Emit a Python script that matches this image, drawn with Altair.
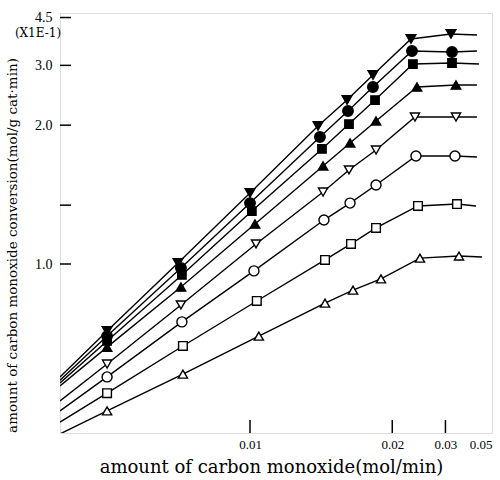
import altair as alt
import pandas as pd

# Eight catalyst runs: marker style for each
SHAPES = ["triangle-down", "circle", "square", "triangle-up",
          "triangle-down", "circle", "square", "triangle-up"]
FILLED = [True, True, True, True, False, False, False, False]
SIZES = [95, 110, 70, 90, 85, 100, 75, 85]

# CO feed rate (mol/min) of each measured point, one list per run
X_MEAS = [
    [0.006408, 0.007835, 0.01000, 0.01329, 0.01535, 0.01774, 0.02273, 0.03157],
    [0.006408, 0.007907, 0.01000, 0.01341, 0.01543, 0.01774, 0.02290, 0.03187],
    [0.006408, 0.007931, 0.01007, 0.01354, 0.01551, 0.01796, 0.02306, 0.03187],
    [0.006408, 0.007907, 0.01019, 0.01361, 0.01560, 0.01807, 0.02376, 0.03311],
    [0.006408, 0.007907, 0.01023, 0.01361, 0.01551, 0.01807, 0.02341, 0.03311],
    [0.006408, 0.007931, 0.01015, 0.01367, 0.01560, 0.01807, 0.02358, 0.03279],
    [0.006408, 0.007956, 0.01026, 0.01374, 0.01568, 0.01807, 0.02394, 0.03344],
    [0.006408, 0.007956, 0.01034, 0.01374, 0.01585, 0.01862, 0.02430, 0.03411],
]
# CO conversion (x 1E-1 mol/g cat.min) at those points
Y_MEAS = [
    [0.772, 1.004, 1.379, 1.990, 2.346, 2.792, 3.709, 3.873],
    [0.758, 0.984, 1.313, 1.864, 2.184, 2.563, 3.357, 3.330],
    [0.745, 0.956, 1.264, 1.740, 2.014, 2.346, 3.031, 3.055],
    [0.729, 0.911, 1.190, 1.585, 1.800, 2.052, 2.563, 2.599],
    [0.688, 0.850, 1.089, 1.386, 1.552, 1.730, 2.103, 2.103],
    [0.659, 0.798, 0.972, 1.212, 1.313, 1.436, 1.673, 1.673],
    [0.625, 0.732, 0.863, 1.017, 1.089, 1.169, 1.295, 1.307],
    [0.591, 0.665, 0.758, 0.856, 0.900, 0.941, 1.025, 1.034],
]

# Fitted lines run from the left edge of the plot to just past the last point
X_START = 0.005697
Y_START = [0.659, 0.652, 0.646, 0.640, 0.610, 0.591, 0.571, 0.551]
X_END = [0.04141, 0.04141, 0.04240, 0.04141, 0.04141, 0.04141, 0.04094, 0.04396]
Y_END = [3.839, 3.357, 3.031, 2.599, 2.103, 1.664, 1.295, 1.030]

# Axis ranges and tick marks
X_DOMAIN = [0.005697, 0.05]
Y_DOMAIN = [0.5525, 4.70]
X_TICKS = [0.01, 0.02, 0.03, 0.05]
X_TICK_MARKS = [0.01, 0.02, 0.03]
Y_TICKS = [1.0, 1.3, 2.0, 3.0, 4.5]

W, H = 432, 420
SERIF = "Liberation Serif"
TITLE_FONT = "DejaVu Serif"

point_rows, line_rows = [], []
for i in range(len(SHAPES)):
    for xv, yv in zip(X_MEAS[i], Y_MEAS[i]):
        point_rows.append(dict(series=i, x=xv, y=yv, shape=SHAPES[i],
                               fill="black" if FILLED[i] else "white",
                               size=SIZES[i]))
    xs = [X_START] + X_MEAS[i] + [X_END[i]]
    ys = [Y_START[i]] + Y_MEAS[i] + [Y_END[i]]
    for k, (xv, yv) in enumerate(zip(xs, ys)):
        line_rows.append(dict(series=i, order=k, x=xv, y=yv))

points = pd.DataFrame(point_rows)
lines = pd.DataFrame(line_rows)
xticks = pd.DataFrame({"x": X_TICK_MARKS})
yticks = pd.DataFrame({"y": Y_TICKS})

x_scale = alt.Scale(type="pow", exponent=-0.8, domain=X_DOMAIN, nice=False, zero=False)
y_scale = alt.Scale(type="pow", exponent=-0.55, domain=Y_DOMAIN, nice=False, zero=False)

x_axis = alt.Axis(
    values=X_TICKS, format=".2f", ticks=False, domain=False, grid=False,
    labelFont=SERIF, labelFontSize=13, labelColor="black", labelPadding=5,
    title="amount of carbon monoxide(mol/min)", titleFont=TITLE_FONT,
    titleFontSize=18, titleFontWeight="normal", titleColor="black",
    titleX=211, titleY=34, titleAlign="center", titleBaseline="middle",
)
y_axis = alt.Axis(
    values=Y_TICKS, ticks=False, domain=False, grid=False,
    labelExpr="datum.value == 1.3 ? '' : format(datum.value, '.1f')",
    labelFont=SERIF, labelFontSize=14, labelColor="black", labelPadding=8,
    title="amount of carbon monoxide conversion(mol/g cat·min)",
    titleFont=TITLE_FONT, titleFontSize=13.5, titleFontWeight="normal",
    titleColor="black", titleX=-48, titleY=232, titleAlign="center",
    titleBaseline="middle", titleAngle=270,
)

X = alt.X("x:Q", scale=x_scale, axis=x_axis)
Y = alt.Y("y:Q", scale=y_scale, axis=y_axis)

line_layer = alt.Chart(lines).mark_line(color="black", strokeWidth=1.4, clip=True).encode(
    x=X, y=Y, detail="series:N", order="order:Q"
)

point_layer = alt.Chart(points).mark_point(
    filled=True, stroke="black", strokeWidth=1.4, opacity=1
).encode(
    x=X, y=Y,
    shape=alt.Shape("shape:N", scale=None),
    fill=alt.Fill("fill:N", scale=None),
    size=alt.Size("size:Q", scale=None),
)

xtick_layer = alt.Chart(xticks).mark_rule(color="black", strokeWidth=1.5).encode(
    x=X, y=alt.value(H), y2=alt.value(H - 13)
)
ytick_layer = alt.Chart(yticks).mark_rule(color="black", strokeWidth=1.5).encode(
    y=Y, x=alt.value(0), x2=alt.value(11)
)

unit_label = alt.Chart(pd.DataFrame({"t": ["(X1E-1)"]})).mark_text(
    font=TITLE_FONT, fontSize=12, color="black", align="center", baseline="middle"
).encode(text="t:N", x=alt.value(-22), y=alt.value(20))

chart = alt.layer(line_layer, point_layer, xtick_layer, ytick_layer, unit_label).properties(
    width=W, height=H,
    autosize=alt.AutoSizeParams(type="none"),
    padding={"left": 60, "top": 13, "right": 8, "bottom": 47},
).configure_view(stroke="black", strokeWidth=1.6).configure(background="white")

chart.save("out.html", embed_options={"renderer": "svg", "actions": False})
